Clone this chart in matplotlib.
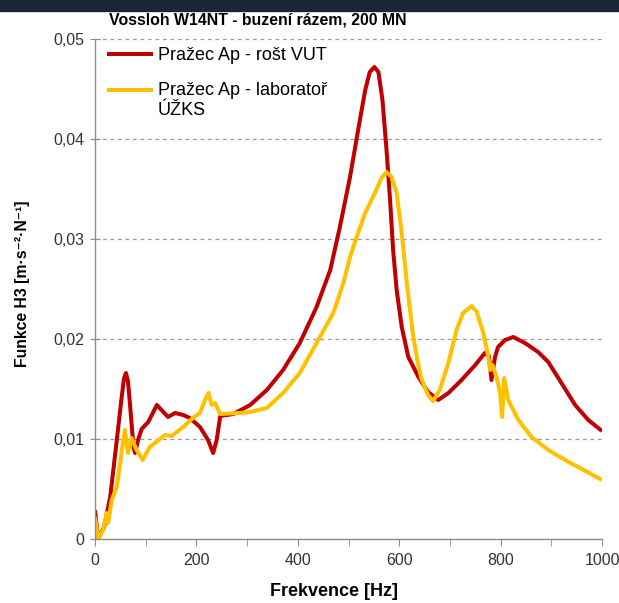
import matplotlib
matplotlib.use("Agg")
import matplotlib.pyplot as plt
import numpy as np
from matplotlib.ticker import MultipleLocator, FuncFormatter

# ---- data ----
freq_red = [0, 6, 18, 30, 43, 52, 57, 61, 65, 69, 72, 76, 79, 85, 92, 105, 113, 122, 133,
            144, 158, 174, 187, 207, 223, 233, 240, 247, 273, 306, 339, 371, 404, 437, 464,
            483, 503, 519, 533, 542, 551, 559, 567, 575, 582, 588, 595, 605, 618, 638, 657,
            677, 697, 723, 750, 769, 777, 782, 789, 795, 809, 825, 848, 874, 894, 920, 947,
            973, 1000]
h3_red = [0.0029, 0.0000, 0.0012, 0.0042, 0.0099, 0.0139, 0.0160, 0.0166, 0.0158, 0.0135,
          0.0116, 0.0092, 0.0086, 0.0099, 0.0110, 0.0117, 0.0125, 0.0134, 0.0128, 0.0122,
          0.0126, 0.0124, 0.0121, 0.0112, 0.0099, 0.0086, 0.0099, 0.0123, 0.0125, 0.0134,
          0.0149, 0.0169, 0.0196, 0.0232, 0.0269, 0.0312, 0.0362, 0.0409, 0.0449, 0.0467,
          0.0472, 0.0467, 0.0439, 0.0389, 0.0339, 0.0289, 0.0249, 0.0212, 0.0182, 0.0162,
          0.0147, 0.0139, 0.0146, 0.0159, 0.0174, 0.0186, 0.0183, 0.0159, 0.0182, 0.0192,
          0.0199, 0.0202, 0.0196, 0.0187, 0.0177, 0.0156, 0.0134, 0.0119, 0.0108]

freq_yel = [0, 6, 16, 23, 26, 33, 43, 53, 59, 65, 72, 82, 94, 108, 118, 138, 151, 174, 193,
            207, 217, 224, 230, 237, 247, 286, 306, 339, 371, 404, 437, 470, 490, 503, 516,
            533, 552, 565, 575, 585, 595, 605, 615, 627, 636, 644, 657, 667, 680, 697, 713,
            726, 743, 753, 766, 776, 779, 784, 792, 799, 803, 807, 815, 835, 861, 894, 934,
            953, 1000]
h3_yel = [0.0022, 0.0000, 0.0009, 0.0026, 0.0016, 0.0039, 0.0052, 0.0089, 0.0109, 0.0086,
          0.0101, 0.0089, 0.0079, 0.0092, 0.0096, 0.0104, 0.0103, 0.0112, 0.0121, 0.0126,
          0.0139, 0.0146, 0.0134, 0.0136, 0.0125, 0.0126, 0.0127, 0.0131, 0.0146, 0.0166,
          0.0196, 0.0226, 0.0256, 0.0282, 0.0302, 0.0326, 0.0346, 0.0361, 0.0367, 0.0362,
          0.0346, 0.0306, 0.0256, 0.0205, 0.0178, 0.0160, 0.0144, 0.0138, 0.0149, 0.0176,
          0.0209, 0.0226, 0.0233, 0.0227, 0.0206, 0.0182, 0.0169, 0.0174, 0.0162, 0.0146,
          0.0122, 0.0161, 0.0139, 0.0119, 0.0102, 0.0089, 0.0077, 0.0072, 0.0059]

label_red = "Pražec Ap - rošt VUT"
label_yel = "Pražec Ap - laboratoř\nÚŽKS"
title = "Vossloh W14NT - buzení rázem, 200 MN"
xlabel = "Frekvence [Hz]"
ylabel = "Funkce H3 [m·s⁻²·N⁻¹]"

plt.rcParams['font.family'] = ['Liberation Sans', 'DejaVu Sans']

W, H = 619, 603
fig = plt.figure(figsize=(W / 100, H / 100), dpi=100)
# dark strip at the top
fig.patches.append(plt.Rectangle((0, 1 - 11 / H), 1, 11 / H, transform=fig.transFigure,
                                 color='#1b2536', zorder=0))

ax_l, ax_r, ax_t, ax_b = 95, 602, 39, 539
ax = fig.add_axes([ax_l / W, (H - ax_b) / H, (ax_r - ax_l) / W, (ax_b - ax_t) / H])
ax.plot(freq_red, h3_red, color='#C00000', lw=2.9, solid_joinstyle='round',
        solid_capstyle='butt', label=label_red)
ax.plot(freq_yel, h3_yel, color='#FFC000', lw=2.9, solid_joinstyle='round',
        solid_capstyle='butt', label=label_yel)

ax.set_xlim(0, 1000)
ax.set_ylim(0, 0.05)
ax.xaxis.set_major_locator(MultipleLocator(200))
ax.xaxis.set_minor_locator(MultipleLocator(100))
ax.yaxis.set_major_locator(MultipleLocator(0.01))
ax.yaxis.set_major_formatter(FuncFormatter(
    lambda v, p: "0" if abs(v) < 1e-9 else f"{v:.2f}".replace('.', ',')))

for s in ['top', 'right']:
    ax.spines[s].set_visible(False)
for s in ['left', 'bottom']:
    ax.spines[s].set_color('#8c8c8c')
    ax.spines[s].set_linewidth(1.0)

ax.tick_params(axis='y', which='major', direction='inout', length=7, color='#8c8c8c',
               labelsize=11.5, labelcolor='#333333', pad=4)
ax.tick_params(axis='x', which='both', direction='out', length=5, color='#8c8c8c',
               labelsize=11.5, labelcolor='#333333', pad=5)

ax.grid(axis='y', linestyle=(0, (3, 3)), color='#9a9a9a', linewidth=0.9)
ax.set_axisbelow(True)

ax.set_xlabel(xlabel, fontsize=13, fontweight='bold', va='center', ha='center')
ax.xaxis.set_label_coords((334 - ax_l) / (ax_r - ax_l), (ax_b - 591) / (ax_b - ax_t))
ax.set_ylabel(ylabel, fontsize=11.3, fontweight='bold', va='center', ha='center')
ax.yaxis.set_label_coords((23 - ax_l) / (ax_r - ax_l), (ax_b - 284) / (ax_b - ax_t))

fig.text(258 / W, 1 - 20 / H, title, fontsize=11.4, fontweight='bold', ha='center', va='center')

leg = ax.legend(loc='upper left', bbox_to_anchor=((107 - ax_l) / (ax_r - ax_l), 0.984),
                frameon=False, fontsize=13, handlelength=2.55, handletextpad=0.28,
                labelspacing=1.0, borderaxespad=0.0, borderpad=0.0)
leg.get_texts()[1].set_linespacing(1.2)
# align the yellow legend handle with the first line of its two-line label
yl = leg.get_lines()[1]
yl.set_ydata(np.asarray(yl.get_ydata(), dtype=float) + 7.6)

fig.savefig("out.png", dpi=100)
